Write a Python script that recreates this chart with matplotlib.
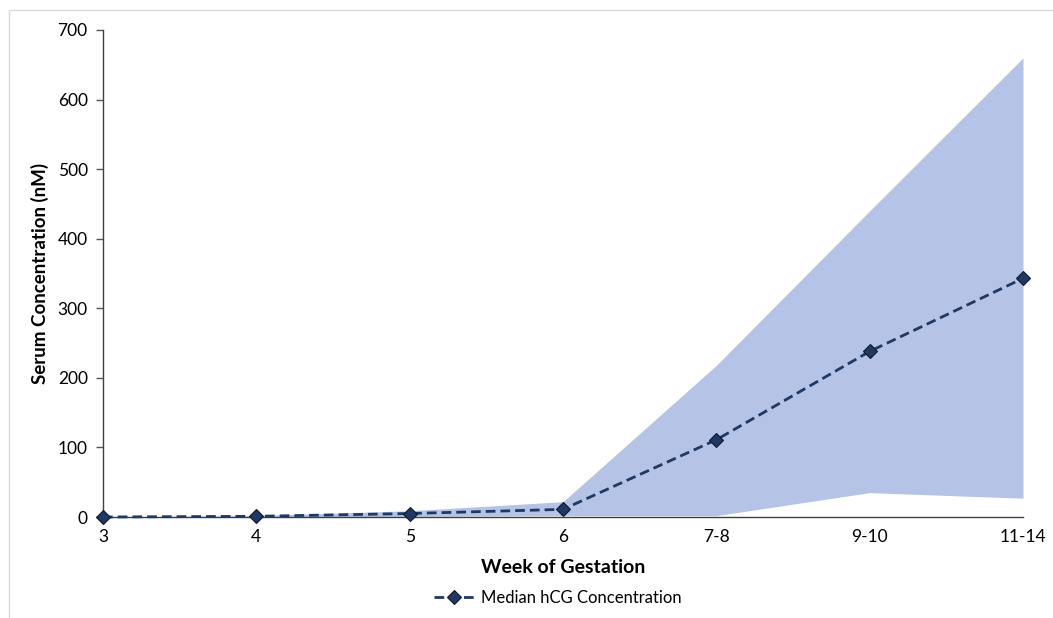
import matplotlib
matplotlib.use("Agg")
import matplotlib.pyplot as plt
from matplotlib.patches import Rectangle

weeks = ["3", "4", "5", "6", "7-8", "9-10", "11-14"]
median = [0, 1, 5, 11, 111, 238, 343]
upper = [0, 2, 9, 22, 218, 440, 660]
lower = [0, 0, 1, 2, 2, 35, 27]

plt.rcParams['font.family'] = ['Lato', 'DejaVu Sans']

fig = plt.figure(figsize=(10.53, 6.18), dpi=100)
W, H = 1053, 618
ax = fig.add_axes([103 / W, 1 - 517 / H, (1023 - 103) / W, (517 - 30) / H])

x = list(range(len(weeks)))
ax.fill_between(x, lower, upper, color="#B4C3E6", linewidth=0, zorder=1)
ax.plot(x, median, linestyle=(0, (3.5, 1.8)), color="#1F3864", linewidth=2,
        marker="D", markersize=7, markerfacecolor="#1F3864", markeredgecolor="#111a2e",
        markeredgewidth=0.8, label="Median hCG Concentration", zorder=3, clip_on=False)

ax.set_xlim(0, len(weeks) - 1)
ax.set_ylim(0, 700)
ax.set_yticks(range(0, 701, 100))
ax.set_xticks(x)
ax.set_xticklabels(weeks)
ax.tick_params(axis='y', length=5, width=1, color="#555555", labelsize=12.5, pad=6)
ax.tick_params(axis='x', length=0, labelsize=12.5, pad=9)
for s in ["top", "right"]:
    ax.spines[s].set_visible(False)
for s in ["left", "bottom"]:
    ax.spines[s].set_color("#404040")
    ax.spines[s].set_linewidth(1)

ax.set_xlabel("Week of Gestation", fontsize=14, fontweight="bold", labelpad=10)
ax.set_ylabel("Serum Concentration (nM)", fontsize=13.5, fontweight="bold", labelpad=6)

fig.legend(loc="center", bbox_to_anchor=(558 / W, 1 - 598 / H), frameon=False,
           fontsize=12, handlelength=2.4, handletextpad=0.4)

fig.patches.append(Rectangle((9 / W, -0.1), 1.2, 1 - 10 / H + 0.1, transform=fig.transFigure,
                             fill=False, edgecolor="#d9d9d9", linewidth=1))

fig.savefig("out.png", dpi=100)
